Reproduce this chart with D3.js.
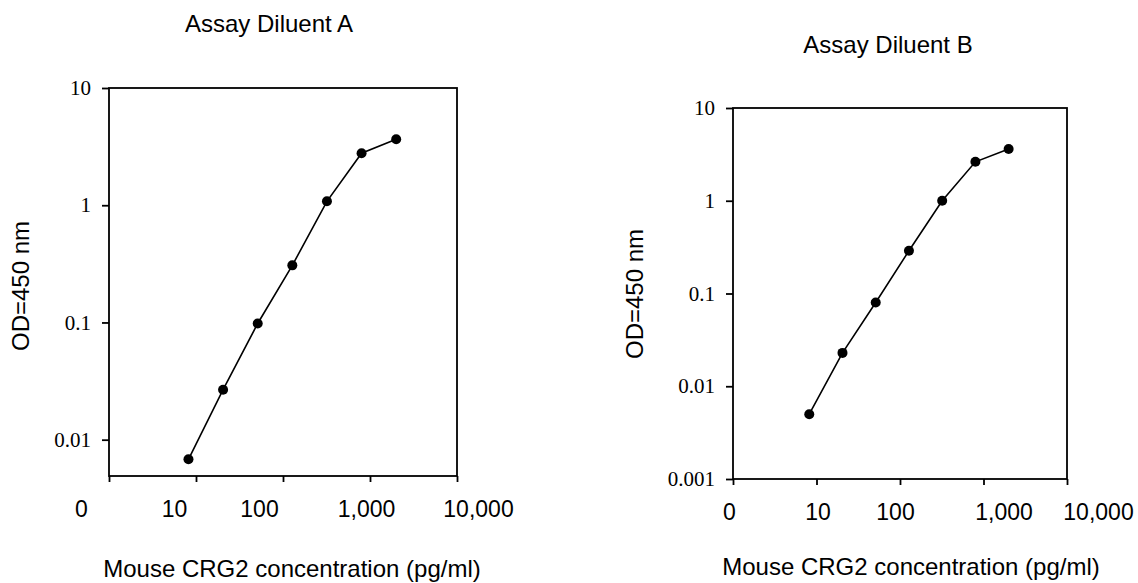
<!DOCTYPE html>
<html>
<head>
<meta charset="utf-8">
<script src="https://cdn.jsdelivr.net/npm/d3@7"></script>
<style>
  body { margin: 0; background: #fff; }
  .sans { font-family: "Liberation Sans", Arial, sans-serif; fill: #000; }
  .serif text { font-family: "Liberation Serif", "Times New Roman", serif; }
</style>
</head>
<body>
<div id="chart"></div>
<script>
// concentrations (pg/ml), 2.5-fold dilution series
const conc = [8.192, 20.48, 51.2, 128, 320, 800, 2000];
// OD at 450 nm
const odA = [0.0068, 0.0267, 0.098, 0.307, 1.08, 2.78, 3.66];
const odB = [0.0050, 0.0229, 0.080, 0.289, 1.00, 2.63, 3.62];
const xTicks = [1, 10, 100, 1000, 10000];
const xTickLabels = ["0", "10", "100", "1,000", "10,000"];
const yTicksA = [0.01, 0.1, 1, 10];
const yTicksB = [0.001, 0.01, 0.1, 1, 10];

const svg = d3.select("#chart")
  .append("svg")
  .attr("width", 1138)
  .attr("height", 583);

// one panel = one log/log plot with its own frame
function panel(cfg) {
  const x = d3.scaleLog().domain([1, 10000]).range([cfg.left, cfg.right]);
  const y = d3.scaleLog().domain(cfg.yDomain).range([cfg.bottom, cfg.top]);
  const g = svg.append("g");

  // plot frame
  g.append("rect")
    .attr("x", cfg.left).attr("y", cfg.top)
    .attr("width", cfg.right - cfg.left).attr("height", cfg.bottom - cfg.top)
    .attr("fill", "none").attr("stroke", "#000").attr("stroke-width", 1.8);

  // y axis, serif labels like the original
  const ya = g.append("g")
    .attr("class", "serif")
    .attr("transform", "translate(" + cfg.left + ",0)")
    .call(d3.axisLeft(y).tickValues(cfg.yTicks).tickSize(7).tickSizeOuter(0)
      .tickPadding(11).tickFormat(d => String(+d.toPrecision(1))));
  ya.select(".domain").remove();
  ya.selectAll("line").attr("stroke-width", 1.8);
  ya.selectAll("text").attr("font-size", 21).attr("fill", "#000");

  // x axis, the labels sit a bit off their ticks in the original
  const xa = g.append("g")
    .attr("transform", "translate(0," + cfg.bottom + ")")
    .call(d3.axisBottom(x).tickValues(xTicks).tickSize(6).tickSizeOuter(0)
      .tickPadding(19).tickFormat((d, i) => xTickLabels[i]));
  xa.select(".domain").remove();
  xa.selectAll("line").attr("stroke-width", 1.8);
  xa.selectAll("text")
    .attr("class", "sans")
    .attr("font-size", 23)
    .attr("dx", (d, i) => cfg.labelShift[i]);

  const pts = conc.map((c, i) => [c, cfg.od[i]]);

  g.append("path")
    .datum(pts)
    .attr("fill", "none")
    .attr("stroke", "#000")
    .attr("stroke-width", 1.6)
    .attr("d", d3.line().x(d => x(d[0])).y(d => y(d[1])));

  g.selectAll("circle")
    .data(pts)
    .enter()
    .append("circle")
      .attr("cx", d => x(d[0]))
      .attr("cy", d => y(d[1]))
      .attr("r", 5)
      .attr("fill", "#000");

  // titles
  g.append("text").attr("class", "sans")
    .attr("x", cfg.titleX).attr("y", cfg.titleY)
    .attr("text-anchor", "middle").attr("font-size", 24)
    .text(cfg.title);

  g.append("text").attr("class", "sans")
    .attr("x", cfg.xTitleX).attr("y", cfg.xTitleY)
    .attr("text-anchor", "middle").attr("font-size", 24)
    .text("Mouse CRG2 concentration (pg/ml)");

  g.append("text").attr("class", "sans")
    .attr("transform", "translate(" + cfg.yTitleX + "," + cfg.yTitleY + ") rotate(-90)")
    .attr("text-anchor", "middle").attr("font-size", 24)
    .text("OD=450 nm");
}

panel({
  left: 109, right: 457, top: 88, bottom: 476,
  yDomain: [0.0049, 10], yTicks: yTicksA, od: odA,
  labelShift: [-28, -22, -24, -4, 21],
  title: "Assay Diluent A", titleX: 269, titleY: 32,
  xTitleX: 292, xTitleY: 577, yTitleX: 29, yTitleY: 286
});

panel({
  left: 733, right: 1067, top: 108, bottom: 479,
  yDomain: [0.001, 10], yTicks: yTicksB, od: odB,
  labelShift: [-4, 1, -5, 20, 31],
  title: "Assay Diluent B", titleX: 888, titleY: 53,
  xTitleX: 911, xTitleY: 575, yTitleX: 643, yTitleY: 294
});
</script>
</body>
</html>
